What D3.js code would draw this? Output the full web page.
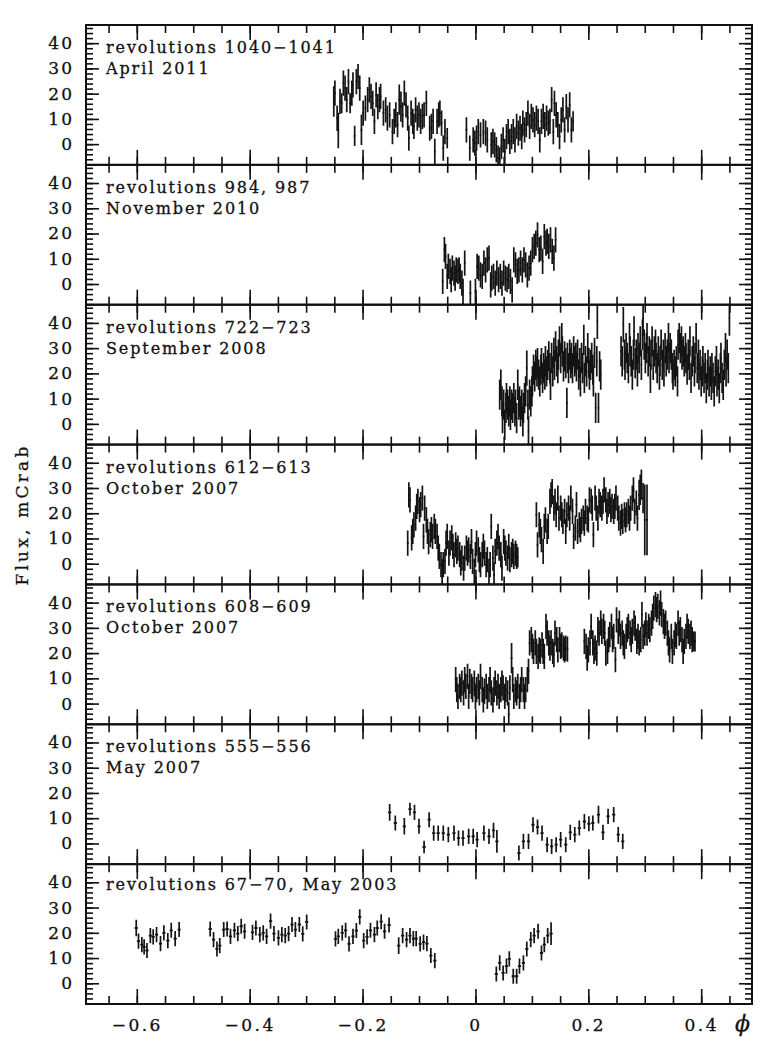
<!DOCTYPE html>
<html>
<head>
<meta charset="utf-8">
<script src="https://cdn.jsdelivr.net/npm/d3@7"></script>
<style>
  body { margin: 0; background: #fff; }
  text { font-family: "DejaVu Serif", serif; fill: #111; stroke: #111; stroke-width: 0.3px; }
</style>
</head>
<body>
<div id="chart"></div>
<script>
// light curves: [phase, flux (mCrab), error]
var rev1040 = [
  [-0.251,16.9,6],[-0.249,20.2,5],[-0.245,10.3,5],[-0.243,5.4,7],[-0.240,16.9,5],[-0.237,16.2,4],[-0.234,24.2,5],[-0.231,22.2,5],
  [-0.228,17.6,5],[-0.225,24.8,5],[-0.222,16.2,4],[-0.219,20.2,5],[-0.217,23.5,5],[-0.214,3.3,4],[-0.211,24.8,5],[-0.208,26.8,5],
  [-0.205,22.2,5],[-0.202,5.7,6],[-0.199,12.3,5],[-0.195,14.3,5],[-0.191,17.6,5],[-0.188,21.5,5],[-0.185,18.9,5],[-0.182,16.2,5],
  [-0.179,9.0,5],[-0.176,19.5,5],[-0.173,14.9,5],[-0.170,17.6,5],[-0.168,18.9,5],[-0.163,12.3,5],[-0.159,13.6,5],[-0.156,10.3,5],
  [-0.152,11.6,5],[-0.147,5.0,5],[-0.144,9.0,5],[-0.141,11.6,5],[-0.138,7.7,5],[-0.135,17.6,6],[-0.132,14.9,6],[-0.129,11.6,5],
  [-0.126,20.2,5],[-0.123,15.6,5],[-0.120,10.3,5],[-0.118,2.4,5],[-0.114,12.3,5],[-0.111,9.0,5],[-0.109,7.0,5],[-0.106,13.6,5],
  [-0.103,10.3,5],[-0.100,11.6,5],[-0.097,9.0,5],[-0.094,11.0,5],[-0.091,11.6,5],[-0.087,16.2,5],[-0.081,6.3,5],[-0.078,7.0,5],
  [-0.075,9.0,5],[-0.072,-2.9,5],[-0.068,9.0,5],[-0.065,11.6,5],[-0.063,12.3,5],[-0.060,8.3,5],[-0.057,-1.6,5],[-0.054,5.0,5],
  [-0.050,2.4,4],
  [-0.016,5.7,5],[-0.010,-1.6,5],[-0.004,1.7,5],[-0.001,0.4,5],[0.002,2.4,5],[0.005,5.0,5],[0.009,3.7,5],[0.014,5.0,5],
  [0.018,4.4,5],[0.021,1.7,5],[0.028,-0.3,5],[0.031,1.1,5],[0.034,-0.3,5],[0.037,-2.2,5],[0.040,-5.5,5],[0.043,-6.2,5],
  [0.046,-0.9,5],[0.049,1.7,5],[0.052,-2.9,5],[0.055,3.0,5],[0.058,5.0,5],[0.061,1.1,5],[0.064,3.0,5],[0.067,5.0,5],
  [0.070,1.7,5],[0.073,7.0,5],[0.076,4.4,5],[0.079,6.3,5],[0.082,3.0,5],[0.084,8.3,5],[0.087,5.7,5],[0.090,7.7,5],
  [0.093,12.3,5],[0.096,7.0,5],[0.099,11.0,5],[0.102,9.6,5],[0.105,7.7,5],[0.108,10.3,5],[0.111,9.0,5],[0.114,1.7,5],
  [0.117,9.0,5],[0.120,11.0,5],[0.123,7.7,5],[0.126,10.3,5],[0.129,8.3,5],[0.132,9.0,5],[0.135,17.6,5],[0.138,5.0,5],
  [0.140,16.2,5],[0.143,11.6,5],[0.146,7.7,5],[0.149,3.0,5],[0.152,9.6,5],[0.155,13.6,5],[0.158,5.7,5],[0.161,14.9,5],
  [0.164,9.6,5],[0.167,15.6,5],[0.170,5.7,5],[0.173,9.0,4]
];

var rev984 = [
  [-0.058,1.0,5],[-0.055,13.6,5],[-0.053,10.9,5],[-0.050,3.0,5],[-0.048,7.0,5],[-0.045,5.0,5],[-0.043,1.7,5],[-0.041,6.3,5],
  [-0.038,4.3,5],[-0.036,2.3,5],[-0.034,5.6,5],[-0.031,5.0,5],[-0.029,5.6,5],[-0.027,3.0,5],[-0.024,0.4,5],[-0.022,-2.9,5],
  [-0.019,8.3,5],[-0.009,-3.6,5],[0.000,-2.9,5],[0.003,7.0,5],[0.006,6.3,5],[0.009,3.6,5],[0.012,3.0,5],[0.015,8.3,5],
  [0.018,5.6,5],[0.021,9.6,5],[0.024,10.3,5],[0.027,-0.3,5],[0.029,2.3,5],[0.032,3.0,5],[0.035,0.4,5],[0.038,4.3,5],
  [0.041,1.7,5],[0.044,3.0,5],[0.047,0.4,5],[0.050,4.3,5],[0.053,2.3,5],[0.056,1.7,5],[0.059,3.0,5],[0.062,1.0,5],
  [0.065,-2.3,5],[0.068,9.6,5],[0.071,7.6,5],[0.074,5.0,5],[0.077,5.6,5],[0.080,8.3,5],[0.083,5.6,5],[0.086,9.6,5],
  [0.089,7.6,5],[0.092,3.6,5],[0.095,6.3,5],[0.098,8.3,5],[0.101,13.6,5],[0.104,14.9,5],[0.107,16.2,5],[0.110,19.5,5],
  [0.113,13.6,5],[0.116,14.2,5],[0.119,9.0,5],[0.122,18.8,5],[0.125,16.2,5],[0.127,16.9,5],[0.130,14.9,5],[0.133,17.5,5],
  [0.136,12.9,5],[0.139,10.3,5],[0.142,17.5,5]
];

var rev722 = [
  [0.043,11.6,6],[0.045,15.5,6],[0.047,8.9,6],[0.048,2.3,6],[0.050,7.6,6],[0.052,-0.3,6],[0.054,6.3,6],[0.055,10.2,6],
  [0.057,7.6,6],[0.059,5.0,6],[0.061,8.9,6],[0.062,3.6,6],[0.064,7.6,6],[0.066,6.3,6],[0.068,10.2,6],[0.070,5.0,6],
  [0.071,7.6,6],[0.073,2.3,6],[0.075,15.5,6],[0.077,7.6,6],[0.078,8.9,6],[0.080,5.0,6],[0.082,7.6,6],[0.084,1.0,6],
  [0.085,6.3,6],[0.087,10.2,6],[0.089,12.9,6],[0.091,22.1,7],[0.093,7.6,6],[0.094,-3.0,6],[0.096,11.6,6],[0.098,8.9,6],
  [0.100,12.9,6],[0.101,16.8,6],[0.103,21.5,6],[0.105,18.8,6],[0.107,23.4,6],[0.109,20.8,6],[0.110,24.1,6],[0.112,19.5,6],
  [0.114,16.8,6],[0.116,21.5,6],[0.117,24.1,6],[0.119,18.2,6],[0.121,22.1,6],[0.123,19.5,6],[0.124,24.8,6],[0.126,20.8,6],
  [0.128,23.4,6],[0.130,26.7,6],[0.132,22.1,6],[0.133,15.5,6],[0.135,26.1,6],[0.137,20.8,6],[0.139,28.1,6],[0.140,23.4,6],
  [0.142,30.7,6],[0.144,24.8,6],[0.146,22.1,6],[0.147,27.4,6],[0.149,32.7,6],[0.151,26.1,6],[0.153,34.0,6],[0.154,28.7,6],
  [0.156,22.8,6],[0.158,26.7,6],[0.160,24.1,6],[0.162,8.3,6],[0.163,26.1,6],[0.165,22.1,6],[0.167,27.4,6],[0.169,24.1,6],
  [0.170,26.1,6],[0.172,22.1,6],[0.174,28.7,6],[0.176,24.8,6],[0.178,26.1,6],[0.179,22.8,6],[0.181,27.4,6],[0.183,19.5,6],
  [0.185,24.1,6],[0.186,16.8,6],[0.188,26.1,6],[0.190,22.1,6],[0.192,33.3,6],[0.193,18.2,6],[0.195,24.8,6],[0.197,20.8,6],
  [0.199,30.0,6],[0.201,24.1,6],[0.202,19.5,6],[0.204,23.4,6],[0.206,26.1,6],[0.208,21.5,6],[0.209,16.8,6],[0.211,28.1,6],
  [0.213,6.3,6],[0.215,24.8,6],[0.216,40.6,7],[0.218,6.3,6],[0.220,22.8,6],[0.222,19.5,6],
  [0.258,28.7,6],[0.260,24.8,6],[0.262,39.3,7],[0.264,27.4,6],[0.265,23.4,6],[0.267,30.0,6],[0.269,26.1,6],[0.271,22.1,6],
  [0.273,34.0,6],[0.274,28.7,6],[0.276,24.8,6],[0.278,19.5,6],[0.280,27.4,6],[0.281,36.6,6],[0.283,24.1,6],[0.285,27.4,6],
  [0.287,20.8,6],[0.288,30.0,6],[0.290,26.1,6],[0.292,32.7,6],[0.294,23.4,6],[0.296,35.3,6],[0.297,41.9,7],[0.299,31.4,6],
  [0.301,26.1,6],[0.303,30.0,6],[0.304,34.0,6],[0.306,24.8,6],[0.308,28.7,6],[0.310,18.2,6],[0.311,27.4,6],[0.313,32.7,6],
  [0.315,23.4,6],[0.317,28.7,6],[0.319,31.4,6],[0.320,26.1,6],[0.322,22.1,6],[0.324,28.7,6],[0.326,19.5,6],[0.327,24.8,6],
  [0.329,31.4,6],[0.331,23.4,6],[0.333,27.4,6],[0.334,20.8,6],[0.336,30.0,6],[0.338,24.8,6],[0.340,27.4,6],[0.342,34.0,6],
  [0.343,26.1,6],[0.345,30.0,6],[0.347,27.4,6],[0.349,22.1,6],[0.350,19.5,6],[0.352,23.4,6],[0.354,20.8,6],[0.356,24.8,6],
  [0.358,16.8,6],[0.359,31.4,6],[0.361,34.0,6],[0.363,30.0,6],[0.365,32.7,6],[0.366,27.4,6],[0.368,28.7,6],[0.370,24.8,6],
  [0.372,30.0,6],[0.373,26.1,6],[0.375,21.5,6],[0.377,27.4,6],[0.379,23.4,6],[0.380,32.7,6],[0.382,18.2,6],[0.384,24.8,6],
  [0.386,28.7,6],[0.388,20.8,6],[0.389,26.1,6],[0.391,34.0,6],[0.393,22.1,6],[0.395,27.4,6],[0.396,19.5,6],[0.398,23.4,6],
  [0.400,16.8,6],[0.402,20.8,6],[0.403,24.8,6],[0.405,18.2,6],[0.407,22.1,6],[0.409,14.2,6],[0.411,19.5,6],[0.412,23.4,6],
  [0.414,16.8,6],[0.416,20.8,6],[0.418,15.5,6],[0.419,22.1,6],[0.421,18.2,6],[0.423,12.9,6],[0.425,20.8,6],[0.427,24.8,6],
  [0.428,16.8,6],[0.430,19.5,6],[0.432,14.2,6],[0.434,22.1,6],[0.435,26.1,6],[0.437,18.2,6],[0.439,15.5,6],[0.441,23.4,6],
  [0.443,30.0,6],[0.444,20.8,6],[0.446,27.4,6],[0.448,22.1,6],[0.450,41.9,7]
];

var rev612 = [
  [-0.120,8.2,5],[-0.118,27.3,5],[-0.116,25.3,5],[-0.113,10.2,5],[-0.111,12.8,5],[-0.109,15.4,5],[-0.106,18.1,5],[-0.104,22.7,5],
  [-0.102,24.7,5],[-0.099,21.4,5],[-0.097,23.4,5],[-0.094,26.0,5],[-0.092,10.8,5],[-0.090,22.0,5],[-0.087,17.4,5],[-0.085,12.8,5],
  [-0.083,8.8,5],[-0.080,11.5,5],[-0.078,13.5,5],[-0.076,10.8,5],[-0.073,14.8,5],[-0.071,12.8,5],[-0.068,10.8,5],[-0.066,6.2,5],
  [-0.064,2.9,5],[-0.061,-0.4,5],[-0.059,-3.0,5],[-0.057,-0.4,5],[-0.054,0.9,5],[-0.052,8.2,5],[-0.050,10.8,5],[-0.047,4.2,5],
  [-0.045,8.2,5],[-0.042,10.2,5],[-0.040,6.9,5],[-0.038,3.6,5],[-0.035,7.5,5],[-0.033,4.9,5],[-0.031,6.2,5],[-0.028,3.6,5],
  [-0.026,0.3,5],[-0.024,2.2,5],[-0.021,-1.7,5],[-0.019,2.2,5],[-0.016,6.2,5],[-0.014,4.2,5],[-0.012,5.5,5],[-0.009,2.9,5],
  [-0.007,8.8,5],[-0.005,0.9,5],[-0.002,-3.0,5],[0.000,3.6,5],[0.002,8.2,5],[0.005,5.5,5],[0.007,1.6,5],[0.009,-0.4,5],
  [0.012,3.6,5],[0.014,6.9,5],[0.016,4.2,5],[0.019,-0.4,5],[0.021,1.6,5],[0.024,-3.0,5],[0.026,-0.4,5],[0.028,14.8,5],
  [0.031,2.2,5],[0.033,-4.4,5],[0.035,4.9,5],[0.038,8.2,5],[0.040,10.8,5],[0.042,6.2,5],[0.045,3.6,5],[0.047,-1.7,5],
  [0.050,8.8,5],[0.052,6.2,5],[0.054,4.2,5],[0.057,2.2,5],[0.059,6.9,5],[0.061,1.6,5],[0.064,3.6,5],[0.066,4.9,5],
  [0.068,2.9,5],[0.071,4.2,5],[0.073,2.9,5],[0.075,2.5,4],
  [0.108,19.4,5],[0.110,7.5,5],[0.113,15.4,5],[0.115,12.8,5],[0.117,9.5,5],[0.120,4.9,5],[0.122,14.8,5],[0.124,17.4,5],
  [0.127,12.8,5],[0.129,14.8,5],[0.132,24.7,5],[0.134,27.3,5],[0.136,28.6,5],[0.139,22.0,5],[0.141,24.7,5],[0.143,19.4,5],
  [0.146,26.0,5],[0.148,18.1,5],[0.151,22.0,5],[0.153,19.4,5],[0.155,16.8,5],[0.158,20.7,5],[0.160,12.8,5],[0.162,19.4,5],
  [0.165,22.0,5],[0.167,18.1,5],[0.169,26.0,5],[0.172,20.7,5],[0.174,10.8,5],[0.177,14.1,5],[0.179,23.4,5],[0.181,12.8,5],
  [0.184,15.4,5],[0.186,13.5,5],[0.188,16.8,5],[0.191,18.1,5],[0.193,16.1,5],[0.195,20.7,5],[0.198,18.1,5],[0.200,17.4,5],
  [0.202,25.3,5],[0.205,24.7,5],[0.207,22.0,5],[0.209,11.5,5],[0.212,26.0,5],[0.214,22.0,5],[0.217,18.1,5],[0.219,24.7,5],
  [0.221,23.4,5],[0.224,22.0,5],[0.226,24.7,5],[0.228,29.3,5],[0.231,25.3,5],[0.233,20.7,5],[0.235,23.4,5],[0.238,24.7,5],
  [0.240,21.4,5],[0.242,22.7,5],[0.245,20.7,5],[0.247,22.7,5],[0.249,26.0,5],[0.252,22.0,5],[0.254,18.1,5],[0.257,16.1,5],
  [0.259,18.8,5],[0.261,16.8,5],[0.264,19.4,5],[0.266,17.4,5],[0.268,19.4,5],[0.271,20.7,5],[0.273,18.1,5],[0.275,22.0,5],
  [0.278,26.0,5],[0.280,29.3,5],[0.282,20.7,5],[0.285,24.0,5],[0.287,18.1,5],[0.290,27.3,6],[0.292,29.3,6],[0.294,31.3,6],
  [0.297,26.0,6],[0.300,17.4,14],[0.304,17.4,14]
];

var rev608 = [
  [-0.035,9.5,5],[-0.033,5.5,5],[-0.031,2.9,5],[-0.028,6.8,5],[-0.026,5.5,5],[-0.024,8.1,5],[-0.021,4.2,5],[-0.019,9.5,5],
  [-0.017,6.8,5],[-0.014,10.8,5],[-0.012,2.9,5],[-0.010,8.8,5],[-0.007,6.8,5],[-0.005,5.5,5],[-0.002,8.1,5],[0.000,2.9,5],
  [0.002,5.5,5],[0.005,6.8,5],[0.007,4.2,5],[0.009,10.8,5],[0.012,5.5,5],[0.014,1.5,5],[0.016,4.9,5],[0.019,6.8,5],
  [0.021,2.9,5],[0.024,5.5,5],[0.026,9.5,5],[0.028,4.2,5],[0.031,1.5,5],[0.033,5.5,5],[0.035,8.1,5],[0.038,4.2,5],
  [0.040,6.8,5],[0.042,2.9,5],[0.045,5.5,5],[0.047,8.1,5],[0.049,6.2,5],[0.052,2.9,5],[0.054,5.5,5],[0.057,4.2,5],
  [0.059,-4.4,5],[0.061,6.2,5],[0.064,18.0,6],[0.066,9.5,5],[0.068,2.9,5],[0.071,5.5,5],[0.073,4.2,5],[0.075,6.8,5],
  [0.078,2.9,5],[0.080,5.5,5],[0.082,9.5,5],[0.085,5.5,5],[0.087,2.9,5],[0.089,5.5,5],[0.092,9.5,5],[0.094,12.8,5],
  [0.096,24.0,5],[0.099,25.3,5],[0.101,22.7,5],[0.103,20.7,5],[0.106,24.0,5],[0.108,20.7,5],[0.111,18.7,5],[0.113,21.3,5],
  [0.115,20.7,5],[0.118,23.3,5],[0.120,20.7,5],[0.122,18.7,5],[0.125,30.6,5],[0.127,27.9,5],[0.130,24.0,5],[0.132,22.0,5],
  [0.134,24.0,5],[0.137,20.7,5],[0.139,19.4,5],[0.141,27.9,5],[0.144,25.3,5],[0.146,21.3,5],[0.149,25.3,5],[0.151,22.7,5],
  [0.153,23.3,5],[0.156,22.0,5],[0.158,21.3,5],[0.160,22.0,5],[0.163,21.6,5],
  [0.193,24.6,5],[0.196,22.7,5],[0.198,18.0,5],[0.200,21.3,5],[0.203,24.0,5],[0.205,30.6,5],[0.208,24.0,5],[0.210,20.7,5],
  [0.212,22.0,5],[0.215,20.0,5],[0.217,29.3,5],[0.219,27.9,5],[0.222,31.9,5],[0.224,28.6,5],[0.227,30.6,5],[0.229,27.9,5],
  [0.231,20.0,5],[0.234,20.7,5],[0.236,25.3,5],[0.238,27.3,5],[0.241,30.6,5],[0.243,25.3,5],[0.245,26.6,5],[0.248,17.4,5],
  [0.250,33.2,5],[0.253,28.6,5],[0.255,31.9,5],[0.257,26.6,5],[0.260,27.9,5],[0.262,24.0,5],[0.264,22.7,5],[0.267,26.6,5],
  [0.269,29.3,5],[0.271,30.6,5],[0.274,27.9,5],[0.276,25.3,5],[0.278,28.6,5],[0.281,31.9,5],[0.283,29.9,5],[0.286,24.6,5],
  [0.288,26.6,5],[0.290,24.0,5],[0.293,25.3,5],[0.295,35.2,5],[0.297,26.6,5],[0.300,27.9,5],[0.302,31.2,5],[0.304,27.9,5],
  [0.307,30.6,5],[0.309,29.3,5],[0.312,31.9,5],[0.314,34.5,5],[0.316,37.8,5],[0.319,39.2,5],[0.321,37.2,5],[0.323,38.5,5],
  [0.326,35.9,5],[0.328,39.8,5],[0.330,35.2,5],[0.333,32.5,5],[0.335,30.6,5],[0.337,31.9,5],[0.340,27.9,5],[0.342,24.0,5],
  [0.344,21.3,5],[0.347,26.6,5],[0.349,20.7,5],[0.352,24.0,5],[0.354,27.3,5],[0.356,26.6,5],[0.359,31.9,5],[0.361,27.9,5],
  [0.363,29.3,5],[0.366,25.3,5],[0.368,20.7,5],[0.370,24.6,5],[0.373,26.6,5],[0.375,30.6,5],[0.377,28.6,5],[0.380,26.6,5],
  [0.382,27.9,5],[0.384,25.3,5],[0.387,24.6,4],[0.389,24.6,4]
];

var rev555 = [
  [-0.152,12.3,3.3],[-0.142,8.1,3],[-0.126,6.8,3.3],[-0.116,13.6,2.5],[-0.108,12.3,3],[-0.100,6.8,3],[-0.091,-1.4,2.5],[-0.082,9.4,3],
  [-0.074,4.1,3],[-0.066,4.1,3],[-0.057,4.1,3],[-0.048,3.5,3],[-0.038,4.1,3],[-0.030,2.1,3],[-0.022,2.1,3],[-0.012,2.8,3],
  [-0.004,2.8,3],[0.003,1.5,3],[0.015,4.1,3],[0.024,2.8,3],[0.032,5.2,3],[0.038,0.8,4.5],
  [0.077,-3.8,3],[0.085,0.8,3],[0.094,0.8,3],[0.102,7.4,3],[0.110,6.5,3],[0.118,4.1,3],[0.127,-0.5,3],[0.135,-1.2,3],
  [0.143,-0.5,3],[0.151,1.5,3],[0.160,-0.5,3],[0.168,4.4,3],[0.176,3.5,3],[0.184,6.1,3],[0.193,8.7,3],[0.201,7.8,3],
  [0.208,8.1,3],[0.218,11.4,3.5],[0.226,4.4,3],[0.235,10.7,3],[0.245,11.4,3],[0.253,3.5,3],[0.261,0.8,3]
];

var rev67 = [
  [-0.601,21.9,3.3],[-0.597,16.7,3],[-0.591,15.3,3],[-0.587,14.4,3],[-0.582,13.0,3],[-0.576,18.9,3],[-0.571,18.4,3],[-0.565,19.3,3],
  [-0.558,15.7,3],[-0.552,20.0,3],[-0.545,16.9,3],[-0.539,21.0,3],[-0.532,17.7,3],[-0.525,21.3,3],
  [-0.470,21.5,3],[-0.464,17.3,3],[-0.458,13.6,3],[-0.453,14.9,3],[-0.446,21.3,3],[-0.440,21.5,3],[-0.434,18.6,3],[-0.427,21.0,3],
  [-0.421,19.7,3],[-0.415,22.6,3],[-0.409,20.6,3],[-0.395,20.2,3],[-0.389,21.9,3],[-0.382,19.3,3],[-0.376,20.0,3],[-0.370,18.6,3],
  [-0.363,24.6,3],[-0.357,19.7,3],[-0.349,18.0,3],[-0.343,19.3,3],[-0.337,18.9,3],[-0.331,19.7,3],[-0.325,23.3,3],[-0.319,21.3,3],
  [-0.312,23.3,3],[-0.306,19.6,3],[-0.299,24.3,3],
  [-0.248,17.6,3],[-0.243,18.6,3],[-0.236,20.0,3],[-0.230,21.0,3],[-0.224,15.6,3],[-0.217,18.6,3],[-0.211,20.9,3],[-0.205,26.3,3],
  [-0.198,16.9,3],[-0.192,18.4,3],[-0.186,21.0,3],[-0.179,19.3,3],[-0.174,21.9,3],[-0.167,24.4,3],[-0.161,20.6,3],[-0.153,23.1,3],
  [-0.136,14.9,3.3],[-0.129,18.9,3],[-0.122,17.3,3],[-0.116,18.9,3],[-0.110,17.7,3],[-0.105,17.7,3],[-0.098,15.6,3],[-0.092,16.3,3],
  [-0.086,15.7,3],[-0.079,11.0,3],[-0.072,9.0,3],
  [0.037,3.7,3],[0.043,8.1,3],[0.049,4.1,3],[0.055,6.8,3],[0.060,9.7,3],[0.067,2.8,3],[0.073,2.8,3],[0.078,6.8,3],
  [0.085,8.1,3],[0.091,13.6,3],[0.098,17.3,3],[0.104,18.9,3],[0.111,20.6,3],[0.117,12.0,3],[0.122,15.3,3],[0.128,18.9,3],
  [0.134,19.7,4.5]
];

var panelData = [rev1040, rev984, rev722, rev612, rev608, rev555, rev67];
var panelLabels = [
  ["revolutions 1040\u22121041", "April 2011"],
  ["revolutions 984, 987", "November 2010"],
  ["revolutions 722\u2212723", "September 2008"],
  ["revolutions 612\u2212613", "October 2007"],
  ["revolutions 608\u2212609", "October 2007"],
  ["revolutions 555\u2212556", "May 2007"],
  ["revolutions 67\u221270, May 2003"]
];
// half width of the phase bin drawn as the horizontal bar
var binHalfWidth = [0.0015, 0.0015, 0.0012, 0.0015, 0.0015, 0.0028, 0.0028];

var xTickLabels = [-0.6, -0.4, -0.2, 0, 0.2, 0.4];
var yTickLabels = [0, 10, 20, 30, 40];

function init() {
    var margin = { top: 25, right: 16, bottom: 59, left: 86 },
        w = 768 - margin.left - margin.right,
        h = 1063 - margin.top - margin.bottom;
    var ph = h / panelData.length;

    var svg = d3.select("#chart")
        .append("svg")
        .attr("width", w + margin.left + margin.right)
        .attr("height", h + margin.top + margin.bottom)
        .append("g")
        .attr("transform", `translate(${margin.left},${margin.top})`);

    var xScale = d3.scaleLinear().domain([-0.69, 0.49]).range([0, w]);
    var xMinor = d3.range(-13, 10).map(i => i * 0.05);
    var yMinor = d3.range(-8, 47, 2);

    panelData.forEach((data, i) => {
        var top = i * ph;
        var yScale = d3.scaleLinear().domain([-8.2, 47.2]).range([ph, 0]);
        var g = svg.append("g").attr("transform", `translate(0,${top})`);

        g.append("clipPath").attr("id", "clip" + i)
            .append("rect").attr("width", w).attr("height", ph);

        // ticks: minor then major, on all four sides, pointing inward
        var tickSets = [
            [d3.axisBottom(xScale).tickValues(xMinor).tickSize(-8), `translate(0,${ph})`],
            [d3.axisBottom(xScale).tickValues(xTickLabels).tickSize(-15), `translate(0,${ph})`],
            [d3.axisTop(xScale).tickValues(xMinor).tickSize(-8), "translate(0,0)"],
            [d3.axisTop(xScale).tickValues(xTickLabels).tickSize(-15), "translate(0,0)"],
            [d3.axisLeft(yScale).tickValues(yMinor).tickSize(-7), "translate(0,0)"],
            [d3.axisLeft(yScale).tickValues(yTickLabels).tickSize(-13), "translate(0,0)"],
            [d3.axisRight(yScale).tickValues(yMinor).tickSize(-7), `translate(${w},0)`],
            [d3.axisRight(yScale).tickValues(yTickLabels).tickSize(-13), `translate(${w},0)`]
        ];
        tickSets.forEach(t => {
            var a = g.append("g").attr("transform", t[1])
                .call(t[0].tickFormat(""));
            a.select(".domain").remove();
            a.selectAll("line").attr("stroke", "#111").attr("stroke-width", 1.6);
        });

        // y labels
        var yl = g.append("g")
            .call(d3.axisLeft(yScale).tickValues(yTickLabels).tickSize(0).tickPadding(12));
        yl.select(".domain").remove();
        yl.selectAll("text")
            .style("font-family", "DejaVu Serif, serif")
            .style("font-size", "17px")
            .style("letter-spacing", "2px")
            .attr("fill", "#111");

        // error bars
        var pts = g.append("g").attr("clip-path", `url(#clip${i})`);
        pts.selectAll("line.v")
            .data(data)
            .enter()
            .append("line")
            .attr("class", "v")
            .attr("x1", d => xScale(d[0]))
            .attr("x2", d => xScale(d[0]))
            .attr("y1", d => yScale(d[1] - d[2]))
            .attr("y2", d => yScale(d[1] + d[2]))
            .attr("stroke", "#141414")
            .attr("stroke-width", 1.7);
        pts.selectAll("line.h")
            .data(data)
            .enter()
            .append("line")
            .attr("class", "h")
            .attr("x1", d => xScale(d[0] - binHalfWidth[i]))
            .attr("x2", d => xScale(d[0] + binHalfWidth[i]))
            .attr("y1", d => yScale(d[1]))
            .attr("y2", d => yScale(d[1]))
            .attr("stroke", "#111")
            .attr("stroke-width", 1.8);

        // panel label
        var lab = g.append("text")
            .attr("x", 20)
            .attr("y", i === 6 ? 26 : 28)
            .style("font-size", "16px")
            .style("letter-spacing", "1.9px");
        panelLabels[i].forEach((s, k) => {
            lab.append("tspan").attr("x", 20).attr("dy", k === 0 ? 0 : 21).text(s);
        });

        // frame
        g.append("rect")
            .attr("width", w).attr("height", ph)
            .attr("fill", "none")
            .attr("stroke", "#111")
            .attr("stroke-width", 2);

        // x labels on the bottom panel only
        if (i === panelData.length - 1) {
            var xl = g.append("g")
                .attr("transform", `translate(0,${ph})`)
                .call(d3.axisBottom(xScale).tickValues(xTickLabels).tickSize(0).tickPadding(15)
                    .tickFormat(d3.format("")));
            xl.select(".domain").remove();
            xl.selectAll("text")
                .style("font-family", "DejaVu Serif, serif")
                .style("font-size", "17px")
                .style("letter-spacing", "2.5px")
                .attr("fill", "#111");
        }
    });

    // axis titles
    svg.append("text")
        .attr("transform", `translate(${-58},${h / 2}) rotate(-90)`)
        .attr("text-anchor", "middle")
        .style("font-size", "17px")
        .style("letter-spacing", "3.2px")
        .text("Flux, mCrab");

    svg.append("text")
        .attr("x", w - 2)
        .attr("y", h + 27)
        .attr("text-anchor", "end")
        .style("font-size", "22px")
        .style("font-style", "italic")
        .text("\u03d5");
}

window.onload = init;
</script>
</body>
</html>
